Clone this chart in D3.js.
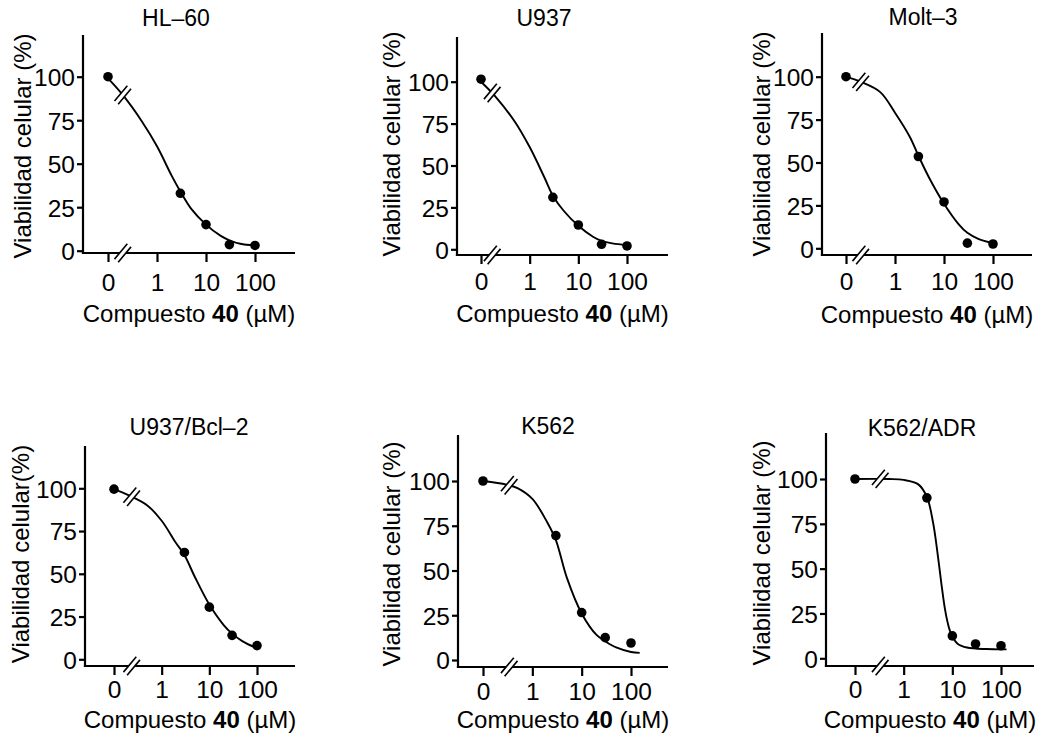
<!DOCTYPE html>
<html>
<head>
<meta charset="utf-8">
<script src="https://cdn.jsdelivr.net/npm/d3@7"></script>
<style>
  body { margin: 0; background: #fff; }
  text { font-family: "Liberation Sans", Arial, Helvetica, sans-serif; fill: #000; }
</style>
</head>
<body>
<svg id="chart" width="1044" height="738"></svg>
<script>
// doses (uM); 0 is drawn at the 0.1 position, left of the axis break
var doses = [0, 3, 10, 30, 100];
var cellLines = ['HL\u201360', 'U937', 'Molt\u20133', 'U937/Bcl\u20132', 'K562', 'K562/ADR'];
var yTitles = ['Viabilidad celular (%)', 'Viabilidad celular (%)', 'Viabilidad celular (%)',
               'Viabilidad celular(%)', 'Viabilidad celular (%)', 'Viabilidad celular (%)'];
var yTicks = [0, 25, 50, 75, 100];
var xTicks = [0.1, 1, 10, 100];
var xTickLabels = ['0', '1', '10', '100'];

// measured viability (%) per dose
var hl60    = [100, 33, 15, 3.5, 3];
var u937    = [101.5, 31, 14.5, 3, 2];
var molt3   = [100, 53.5, 27, 3, 2.5];
var u937bcl = [99.5, 62.5, 30.5, 14, 8];
var k562    = [100, 69.5, 26.5, 12.5, 9.5];
var k562adr = [100, 89.5, 12.5, 8, 7];

// fitted curves: [dose, viability]
var fitHl60    = [[0.1,99],[0.2,89.5],[0.5,74],[1,60],[2,43],[3,34],[5,24],[10,15],[20,8.5],[30,6],[50,4],[100,3]];
var fitU937    = [[0.1,100],[0.2,91],[0.5,76],[1,61],[2,43],[3,32],[5,23],[10,14],[20,7.5],[30,5],[50,3.5],[100,2.5]];
var fitMolt3   = [[0.1,100],[0.2,97],[0.5,91],[1,79],[2,65],[3,54],[5,41],[10,26],[20,14],[30,9],[50,5.5],[100,3]];
var fitU937bcl = [[0.1,99.5],[0.2,96],[0.5,90],[1,81],[2,68],[3,61],[5,48],[10,32],[20,20],[30,15],[50,10.5],[100,6.5]];
var fitK562    = [[0.1,100],[0.3,98],[0.5,96],[1,90],[2,77],[3,67],[5,46],[10,26],[20,14],[30,10.5],[50,7],[100,4.5],[150,4]];
var fitK562adr = [[0.1,100],[0.5,100],[1,99.5],[2,97],[3,90],[4,76],[5,58],[6,41],[7,28],[8,20],[9,15],[10,12],[13,8],[20,6],[30,5.5],[50,5.2],[100,5],[130,5]];

var values = [hl60, u937, molt3, u937bcl, k562, k562adr];
var fits = [fitHl60, fitU937, fitMolt3, fitU937bcl, fitK562, fitK562adr];

// panel placement (px)
var layout = [
  {left: 83,  top: 35,  bottom: 253, y0: 250.7, y100: 76.7,  x0: 108, x100: 255,  right: 295,  tx: 176, ty: 26,  tickDy: 38, labDy: 69, ylx: 31,  yly: 146, brk: 0.2},
  {left: 457, top: 37,  bottom: 255, y0: 249.3, y100: 81.7,  x0: 481, x100: 627,  right: 668,  tx: 544, ty: 26,  tickDy: 35, labDy: 67, ylx: 400, yly: 144, brk: 0.17},
  {left: 822, top: 33,  bottom: 255, y0: 248.3, y100: 76.7,  x0: 846, x100: 993,  right: 1032, tx: 923, ty: 25,  tickDy: 35, labDy: 68, ylx: 770, yly: 144, brk: 0.2},
  {left: 85,  top: 446, bottom: 666, y0: 659.3, y100: 488.3, x0: 114, x100: 257,  right: 295,  tx: 189, ty: 435, tickDy: 32, labDy: 62, ylx: 29,  yly: 554, brk: 0.235},
  {left: 458, top: 435, bottom: 667, y0: 660,   y100: 481,   x0: 483, x100: 631,  right: 668,  tx: 548, ty: 434, tickDy: 33, labDy: 61, ylx: 400, yly: 554, brk: 0.34},
  {left: 826, top: 433, bottom: 666, y0: 658.3, y100: 479,   x0: 855, x100: 1001, right: 1034, tx: 922, ty: 436, tickDy: 32, labDy: 62, ylx: 770, yly: 553, brk: 0.33}
];

var svg = d3.select('#chart');
svg.append('rect').attr('width', 1044).attr('height', 738).attr('fill', '#fff');

var TITLE_FONT = '23px', TICK_FONT = '24.5px', LABEL_FONT = '24px';

function breakMark(g, cx, cy) {
  var b = g.append('g').attr('transform', 'translate(' + cx + ',' + cy + ') rotate(40)');
  b.append('rect').attr('x', -2.4).attr('y', -10).attr('width', 4.8).attr('height', 20).attr('fill', '#fff');
  b.append('line').attr('x1', -2.4).attr('x2', -2.4).attr('y1', -10).attr('y2', 10)
      .attr('stroke', '#000').attr('stroke-width', 1.6);
  b.append('line').attr('x1', 2.4).attr('x2', 2.4).attr('y1', -10).attr('y2', 10)
      .attr('stroke', '#000').attr('stroke-width', 1.6);
}

layout.forEach(function(p, i) {
  var g = svg.append('g').attr('class', 'panel');
  var x = d3.scaleLog().domain([0.1, 100]).range([p.x0, p.x100]);
  var y = d3.scaleLinear().domain([0, 100]).range([p.y0, p.y100]);
  var xd = function(d) { return x(d === 0 ? 0.1 : d); };

  // y axis
  var ya = g.append('g').attr('transform', 'translate(' + p.left + ',0)')
      .call(d3.axisLeft(y).tickValues(yTicks).tickSize(6).tickPadding(2));
  ya.select('.domain').remove();
  ya.selectAll('.tick line').attr('stroke-width', 2.2);
  ya.selectAll('text').style('font-size', TICK_FONT).attr('dy', '0.36em');
  g.append('line').attr('x1', p.left).attr('x2', p.left).attr('y1', p.top).attr('y2', p.bottom + 1)
      .attr('stroke', '#000').attr('stroke-width', 2.2);

  // x axis
  var xa = g.append('g').attr('transform', 'translate(0,' + p.bottom + ')')
      .call(d3.axisBottom(x).tickValues(xTicks).tickSize(9)
        .tickFormat(function(d, k) { return xTickLabels[k]; }));
  xa.select('.domain').remove();
  xa.selectAll('.tick line').attr('stroke-width', 2.2);
  xa.selectAll('text').style('font-size', TICK_FONT).attr('y', p.tickDy).attr('dy', 0);
  g.append('line').attr('x1', p.left - 1.1).attr('x2', p.right).attr('y1', p.bottom).attr('y2', p.bottom)
      .attr('stroke', '#000').attr('stroke-width', 2.2);

  // fitted curve
  var line = d3.line()
      .x(function(d) { return x(d[0]); })
      .y(function(d) { return y(d[1]); })
      .curve(d3.curveCatmullRom.alpha(0.5));
  var path = g.append('path').datum(fits[i]).attr('d', line)
      .attr('fill', 'none').attr('stroke', '#000').attr('stroke-width', 1.9);

  // points
  g.selectAll('circle.pt').data(values[i]).enter().append('circle')
      .attr('class', 'pt')
      .attr('cx', function(d, k) { return xd(doses[k]); })
      .attr('cy', function(d) { return y(d); })
      .attr('r', 4.8)
      .attr('fill', '#000');

  // axis breaks
  var bx = x(p.brk);
  var node = path.node(), len = node.getTotalLength(), lo = 0, hi = len;
  for (var it = 0; it < 40; it++) {
    var mid = (lo + hi) / 2;
    if (node.getPointAtLength(mid).x < bx) lo = mid; else hi = mid;
  }
  breakMark(g, bx, node.getPointAtLength(lo).y);
  breakMark(g, bx, p.bottom);

  // titles
  g.append('text').attr('x', p.tx).attr('y', p.ty).attr('text-anchor', 'middle')
      .style('font-size', TITLE_FONT).text(cellLines[i]);
  var xl = g.append('text').attr('x', (p.left + p.right) / 2).attr('y', p.bottom + p.labDy)
      .attr('text-anchor', 'middle').style('font-size', LABEL_FONT);
  xl.append('tspan').text('Compuesto ');
  xl.append('tspan').style('font-weight', 'bold').text('40');
  xl.append('tspan').text(' (\u00b5M)');
  g.append('text').attr('transform', 'translate(' + p.ylx + ',' + p.yly + ') rotate(-90)')
      .attr('text-anchor', 'middle').style('font-size', LABEL_FONT).text(yTitles[i]);
});
</script>
</body>
</html>
